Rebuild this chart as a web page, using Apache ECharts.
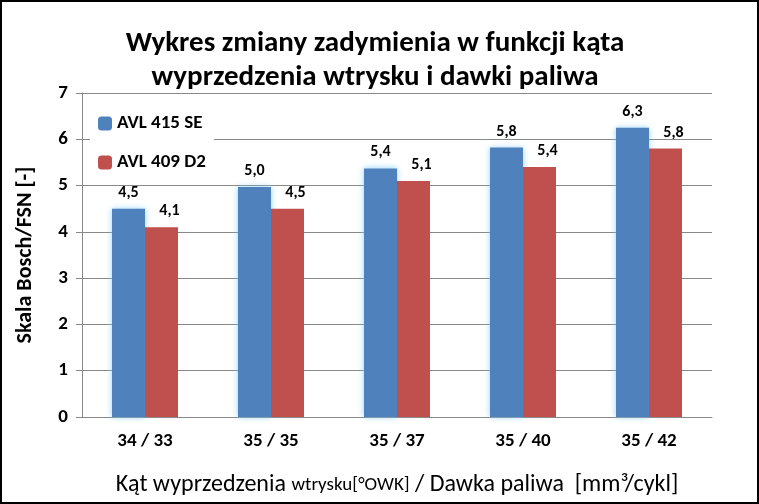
<!DOCTYPE html>
<html><head><meta charset="utf-8">
<script src="https://cdn.jsdelivr.net/npm/echarts@6/dist/echarts.min.js"></script>
<style>html,body{margin:0;padding:0;background:#fff}#c{width:755px;height:500px;border:2px solid #000}</style>
</head><body><div id="c"></div>
<script>
const categories = ['34 / 33','35 / 35','35 / 37','35 / 40','35 / 42'];
const avl415 = [4.5, 4.97, 5.37, 5.82, 6.25];
const avl409 = [4.1, 4.5, 5.1, 5.4, 5.8];
const labels415 = ['4,5','5,0','5,4','5,8','6,3'];
const labels409 = ['4,1','4,5','5,1','5,4','5,8'];
const F = 'Calibri, Carlito, Lato, sans-serif';
const chart = echarts.init(document.getElementById('c'));
chart.setOption({
  animation:false,
  title:{text:'Wykres zmiany zadymienia w funkcji kąta\nwyprzedzenia wtrysku i dawki paliwa',left:368,textAlign:'center',top:20,
    textStyle:{fontFamily:F,fontSize:29,fontWeight:'bold',color:'#000',lineHeight:34}},
  legend:{orient:'vertical',left:88,top:104,itemGap:20,itemWidth:14,itemHeight:14,backgroundColor:'#fff',padding:[8,8,8,8],
    textStyle:{fontFamily:F,fontSize:19,fontWeight:'bold',color:'#000'}},
  grid:{left:80,right:45,top:91,bottom:75},
  xAxis:{type:'category',data:categories,
    axisLine:{lineStyle:{color:'#888'}},axisTick:{length:8,lineStyle:{color:'#888'}},
    axisLabel:{fontFamily:F,fontSize:19,fontWeight:'bold',color:'#000',margin:15},
    name:'{a|Kąt wyprzedzenia }{b|wtrysku[°OWK]}{a| / Dawka paliwa  [mm³/cykl]}',nameLocation:'middle',nameGap:56,
    nameTextStyle:{rich:{a:{fontFamily:F,fontSize:24,color:'#000'},b:{fontFamily:F,fontSize:19,color:'#000'}}}},
  yAxis:{type:'value',min:0,max:7,interval:1,
    axisLine:{show:true,lineStyle:{color:'#888'}},axisTick:{show:true,length:6,lineStyle:{color:'#888'}},
    splitLine:{lineStyle:{color:'#888'}},
    axisLabel:{fontFamily:F,fontSize:19,fontWeight:'bold',color:'#000',margin:14},
    name:'Skala Bosch/FSN [-]',nameLocation:'middle',nameGap:46,
    nameTextStyle:{fontFamily:F,fontSize:22,fontWeight:'bold',color:'#000'}},
  series:[
    {name:'AVL 415 SE',type:'bar',data:avl415,barWidth:33,barGap:'0%',
     itemStyle:{color:'#4f81bd',shadowBlur:6,shadowColor:'rgba(120,200,255,0.8)'},
     label:{show:true,position:'top',distance:8,formatter:p=>labels415[p.dataIndex],fontFamily:F,fontSize:16,fontWeight:'bold',color:'#000'}},
    {name:'AVL 409 D2',type:'bar',data:avl409,barWidth:33,
     itemStyle:{color:'#c0504d'},
     label:{show:true,position:'top',distance:8,offset:[8,0],formatter:p=>labels409[p.dataIndex],fontFamily:F,fontSize:16,fontWeight:'bold',color:'#000'}}
  ]
});
</script></body></html>
